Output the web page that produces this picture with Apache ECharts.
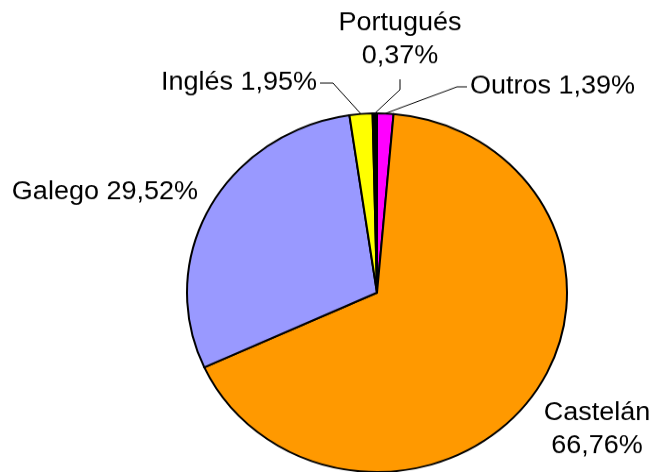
<!DOCTYPE html>
<html>
<head>
<meta charset="utf-8">
<script src="https://cdn.jsdelivr.net/npm/echarts@6/dist/echarts.min.js"></script>
<style>
  html, body { margin: 0; padding: 0; background: #fff; overflow: hidden; }
  #wrap { width: 657px; height: 472px; overflow: hidden; }
  #chart { width: 657px; height: 500px; transform: scaleY(0.944); transform-origin: 0 0; }
</style>
</head>
<body>
<div id="wrap"><div id="chart"></div></div>
<script>
// Data (clockwise from 12 o'clock)
const categories = ['Outros', 'Castelán', 'Galego', 'Inglés', 'Portugués'];
const shares = [1.39, 66.76, 29.52, 1.95, 0.37];
const sliceColors = ['#FF00FF', '#FF9900', '#9999FF', '#FFFF00', '#000000'];

// Label placement (chart-unscaled pixel coordinates)
const labelPlacement = {
  'Outros':    { x: 470, y: 92,  align: 'left',   wrap: false, line: [[457, 92], [467, 92]] },
  'Castelán':  { x: 597, y: 455, align: 'center', wrap: true,  line: null },
  'Galego':    { x: 198, y: 204, align: 'right',  wrap: false, line: null },
  'Inglés':    { x: 317, y: 88,  align: 'right',  wrap: false, line: [[333, 88], [320, 88]] },
  'Portugués': { x: 400, y: 42,  align: 'center', wrap: true,  line: [[400, 95], [400, 84]] }
};

function fmt(v) { return v.toFixed(2).replace('.', ',') + '%'; }

const data = categories.map((name, i) => ({
  name: name,
  value: shares[i],
  itemStyle: { color: sliceColors[i] },
  labelLine: { show: !!labelPlacement[name].line }
}));

const chart = echarts.init(document.getElementById('chart'), null, { renderer: 'canvas' });
chart.setOption({
  animation: false,
  backgroundColor: '#ffffff',
  series: [{
    type: 'pie',
    center: [377, 310],
    radius: 190,
    startAngle: 90,
    clockwise: true,
    avoidLabelOverlap: false,
    silent: true,
    data: data,
    itemStyle: { borderColor: '#000', borderWidth: 2 },
    label: {
      show: true,
      position: 'outside',
      color: '#000',
      fontFamily: 'Liberation Sans, Arial, sans-serif',
      fontSize: 27,
      lineHeight: 35,
      formatter: p => p.name + (labelPlacement[p.name].wrap ? '\n' : ' ') + fmt(p.value)
    },
    labelLine: {
      show: true,
      smooth: false,
      length: 10,
      length2: 10,
      lineStyle: { color: '#000', width: 1 }
    },
    labelLayout: function (params) {
      const name = categories[params.dataIndex];
      const lp = labelPlacement[name];
      const res = { x: lp.x, y: lp.y, align: lp.align, verticalAlign: 'middle' };
      if (lp.line && params.labelLinePoints) {
        res.labelLinePoints = [params.labelLinePoints[0], lp.line[0], lp.line[1]];
      }
      return res;
    }
  }]
});
</script>
</body>
</html>
